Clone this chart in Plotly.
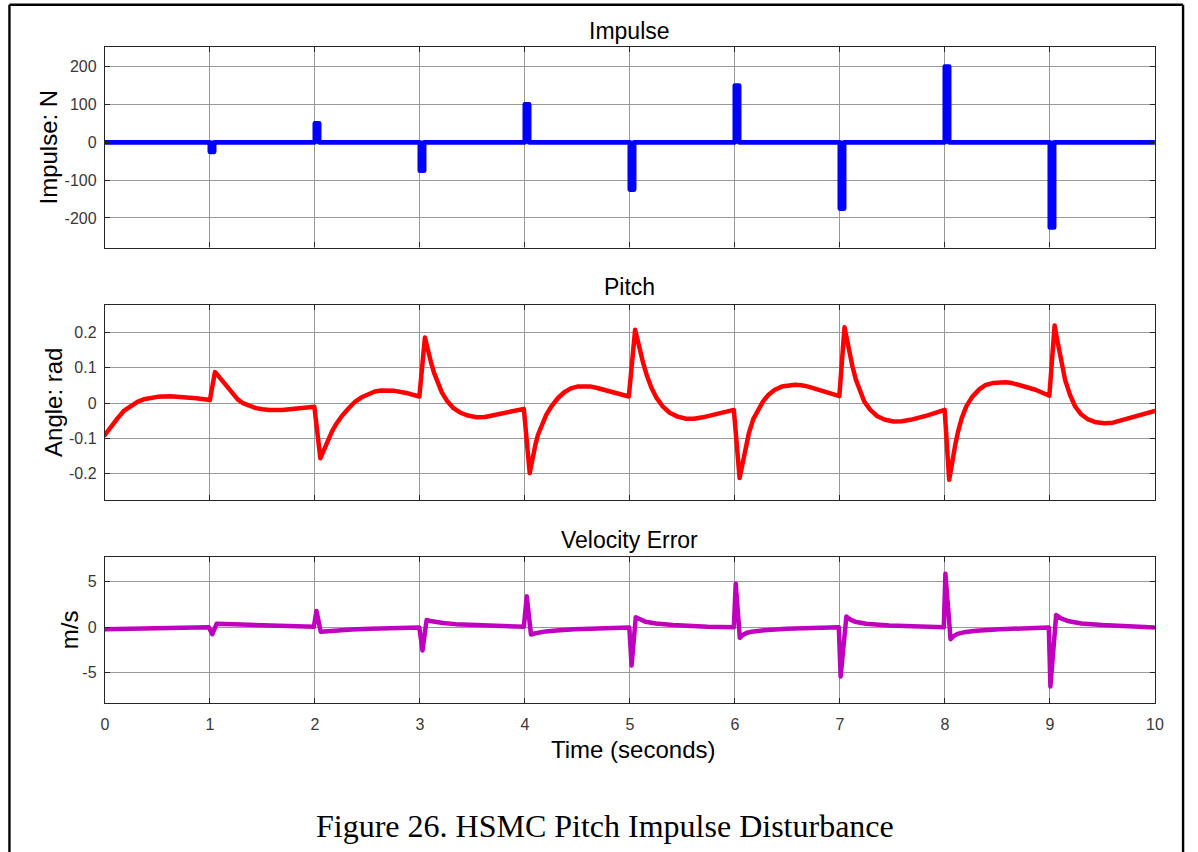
import plotly.graph_objects as go

W, H = 1198, 852

# Impulse disturbance: pulse start times (s), amplitudes (N), pulse duration (s)
impulse_start = [1, 2, 3, 4, 5, 6, 7, 8, 9]
impulse_amp = [-25, 50, -75, 100, -125, 150, -175, 200, -225]
impulse_width = 0.04
t_end = 10

# Pitch angle response (rad)
pitch_t = [0.00, 0.06, 0.12, 0.18, 0.25, 0.31, 0.37, 0.50, 0.62, 0.75, 0.87, 1.00,
           1.048, 1.09, 1.127, 1.17, 1.22, 1.265, 1.315, 1.38, 1.44, 1.50, 1.565, 1.69, 1.815, 1.995,
           2.052, 2.075, 2.10, 2.13, 2.163, 2.21, 2.257, 2.32, 2.382, 2.44, 2.508, 2.57, 2.633, 2.70, 2.76, 2.885, 2.995,
           3.048, 3.075, 3.104, 3.135, 3.167, 3.21, 3.26, 3.32, 3.386, 3.46, 3.543, 3.62, 3.70, 3.85, 3.99,
           4.046, 4.062, 4.077, 4.10, 4.124, 4.16, 4.203, 4.255, 4.313, 4.375, 4.438, 4.50, 4.564, 4.63, 4.689, 4.815, 4.99,
           5.05, 5.072, 5.097, 5.125, 5.16, 5.205, 5.254, 5.31, 5.379, 5.455, 5.536, 5.61, 5.693, 5.85, 5.99,
           6.045, 6.065, 6.086, 6.11, 6.133, 6.175, 6.227, 6.27, 6.321, 6.38, 6.447, 6.51, 6.572, 6.635, 6.698, 6.855, 6.995,
           7.044, 7.066, 7.09, 7.12, 7.153, 7.19, 7.232, 7.29, 7.357, 7.43, 7.514, 7.59, 7.671, 7.828, 7.998,
           8.041, 8.058, 8.078, 8.10, 8.126, 8.16, 8.204, 8.26, 8.33, 8.39, 8.455, 8.52, 8.58, 8.64, 8.706, 8.863, 8.995,
           9.045, 9.063, 9.083, 9.11, 9.145, 9.19, 9.24, 9.30, 9.365, 9.44, 9.522, 9.60, 9.679, 9.836, 10.0]
pitch_rad = [-0.090, -0.064, -0.043, -0.022, -0.006, 0.004, 0.011, 0.018, 0.020, 0.018, 0.014, 0.009,
             0.088, 0.074, 0.060, 0.043, 0.026, 0.011, 0.000, -0.009, -0.014, -0.017, -0.019, -0.019, -0.016, -0.010,
             -0.156, -0.140, -0.120, -0.100, -0.080, -0.056, -0.036, -0.015, 0.004, 0.016, 0.026, 0.033, 0.036, 0.037, 0.035, 0.028, 0.019,
             0.186, 0.150, 0.118, 0.086, 0.058, 0.030, 0.006, -0.014, -0.027, -0.035, -0.040, -0.039, -0.034, -0.025, -0.016,
             -0.198, -0.172, -0.150, -0.118, -0.090, -0.060, -0.033, -0.008, 0.014, 0.031, 0.042, 0.047, 0.048, 0.047, 0.043, 0.033, 0.019,
             0.208, 0.178, 0.150, 0.115, 0.080, 0.044, 0.015, -0.008, -0.027, -0.038, -0.044, -0.044, -0.040, -0.028, -0.019,
             -0.212, -0.180, -0.150, -0.116, -0.085, -0.045, -0.014, 0.006, 0.024, 0.038, 0.047, 0.051, 0.052, 0.051, 0.047, 0.033, 0.020,
             0.215, 0.178, 0.142, 0.104, 0.066, 0.033, 0.005, -0.019, -0.037, -0.047, -0.052, -0.051, -0.047, -0.035, -0.019,
             -0.217, -0.185, -0.150, -0.116, -0.080, -0.043, -0.009, 0.018, 0.040, 0.052, 0.057, 0.059, 0.059, 0.057, 0.052, 0.038, 0.021,
             0.220, 0.190, 0.160, 0.114, 0.066, 0.025, -0.009, -0.032, -0.046, -0.054, -0.057, -0.055, -0.049, -0.036, -0.022]

# Velocity tracking error (m/s)
vel_t = [0.00, 0.50, 0.99, 1.023, 1.065, 1.23, 1.55, 1.88, 1.99,
         2.015, 2.056, 2.09, 2.13, 2.20, 2.35, 2.53, 2.85, 2.995,
         3.025, 3.064, 3.10, 3.145, 3.22, 3.34, 3.665, 3.99,
         4.018, 4.058, 4.09, 4.13, 4.20, 4.30, 4.47, 4.995,
         5.016, 5.056, 5.10, 5.147, 5.25, 5.41, 5.74, 5.99,
         6.008, 6.047, 6.075, 6.11, 6.16, 6.28, 6.49, 6.99,
         7.007, 7.062, 7.10, 7.144, 7.25, 7.47, 7.99,
         8.005, 8.054, 8.08, 8.12, 8.18, 8.30, 8.52, 8.99,
         9.005, 9.06, 9.11, 9.17, 9.30, 9.50, 10.0]
vel_err = [-0.20, -0.05, 0.00, -0.75, 0.40, 0.33, 0.20, 0.10, 0.05,
           1.80, -0.50, -0.45, -0.40, -0.35, -0.25, -0.17, -0.07, -0.03,
           -2.55, 0.80, 0.70, 0.60, 0.48, 0.35, 0.17, 0.06,
           3.40, -0.80, -0.68, -0.55, -0.45, -0.34, -0.21, -0.03,
           -4.20, 1.10, 0.80, 0.62, 0.42, 0.26, 0.07, 0.00,
           4.80, -1.15, -0.85, -0.62, -0.48, -0.32, -0.17, 0.00,
           -5.40, 1.20, 0.85, 0.62, 0.40, 0.21, 0.00,
           5.90, -1.30, -1.00, -0.72, -0.55, -0.38, -0.21, -0.03,
           -6.50, 1.35, 0.95, 0.70, 0.42, 0.25, -0.03]

# Build the rectangular pulse train
imp_x, imp_y = [0.0], [0.0]
for t0, amp in zip(impulse_start, impulse_amp):
    imp_x += [t0, t0, t0 + impulse_width, t0 + impulse_width]
    imp_y += [0, amp, amp, 0]
imp_x.append(t_end)
imp_y.append(0)

SANS = "Liberation Sans, Arial, Helvetica, sans-serif"
SERIF = "Liberation Serif, Times New Roman, serif"
AX = "#262626"
GRID = "#999999"
TICK = "#383838"


def fx(px):
    return px / W


def fy(py):
    return 1 - py / H


x_dom = [fx(102), fx(1163.5)]
panels = [(47, 247.5), (305, 500), (556.7, 703.3)]

fig = go.Figure()
fig.add_trace(go.Scatter(x=imp_x, y=imp_y, mode="lines",
                         line=dict(color="#0000ff", width=4.8),
                         xaxis="x", yaxis="y"))
fig.add_trace(go.Scatter(x=pitch_t, y=pitch_rad, mode="lines",
                         line=dict(color="#ff0000", width=4.5),
                         xaxis="x2", yaxis="y2"))
fig.add_trace(go.Scatter(x=vel_t, y=vel_err, mode="lines",
                         line=dict(color="#bf00bf", width=4.5),
                         xaxis="x3", yaxis="y3"))

common = dict(showgrid=True, gridcolor=GRID, gridwidth=1, ticks="inside",
              ticklen=5, tickwidth=1, tickcolor=AX, showline=True,
              linecolor=AX, linewidth=1.2, mirror="allticks", zeroline=False,
              tickfont=dict(family=SANS, size=16, color=TICK))

y_specs = [
    dict(range=[-278, 252], tickvals=[-200, -100, 0, 100, 200],
         ticktext=["-200", "-100", "0", "100", "200"]),
    dict(range=[-0.274, 0.278], tickvals=[-0.2, -0.1, 0, 0.1, 0.2],
         ticktext=["-0.2", "-0.1", "0", "0.1", "0.2"]),
    dict(range=[-8.35, 7.76], tickvals=[-5, 0, 5],
         ticktext=["-5", "0", "5"]),
]

layout = dict(width=W, height=H, autosize=False,
              margin=dict(l=0, r=0, t=0, b=0),
              paper_bgcolor="white", plot_bgcolor="white",
              showlegend=False)

for i, ((top, bot), ys) in enumerate(zip(panels, y_specs), start=1):
    sfx = "" if i == 1 else str(i)
    layout["xaxis" + sfx] = dict(common, domain=x_dom, range=[0, 10],
                                 tickvals=list(range(0, 11)),
                                 ticktext=[str(v) for v in range(0, 11)],
                                 showticklabels=(i == 3), ticklabelstandoff=6,
                                 anchor="y" + sfx)
    layout["yaxis" + sfx] = dict(common, domain=[fy(bot), fy(top)],
                                 ticklabelstandoff=4, anchor="x" + sfx, **ys)

fig.update_layout(**layout)

xc = fx((102 + 1163.5) / 2)
annos = [
    ("Impulse", xc, fy(31), 23, 0, SANS),
    ("Pitch", xc, fy(287), 23, 0, SANS),
    ("Velocity Error", xc, fy(540), 23, 0, SANS),
    ("Impulse: N", fx(44), fy(147), 24, -90, SANS),
    ("Angle: rad", fx(50), fy(402.5), 24, -90, SANS),
    ("m/s", fx(66), fy(630), 24, -90, SANS),
    ("Time (seconds)", fx(636), fy(749), 24, 0, SANS),
    ("Figure 26. HSMC Pitch Impulse Disturbance", fx(607.5), fy(826), 32, 0, SERIF),
]
for text, x, y, size, ang, fam in annos:
    fig.add_annotation(text=text, x=x, y=y, xref="paper", yref="paper",
                       showarrow=False, xanchor="center", yanchor="middle",
                       textangle=ang, font=dict(family=fam, size=size, color="#000000"))

# Page frame
for x0, y0, x1, y1 in [(5.5, 4.8, 5.5, 852), (5.5, 4.8, 1192, 4.8), (1192, 4.8, 1192, 852)]:
    fig.add_shape(type="line", xref="paper", yref="paper",
                  x0=fx(x0), y0=fy(y0), x1=fx(x1), y1=fy(y1),
                  line=dict(color="#000000", width=2.4))

# Rounded joins and caps on the data lines
round_joins = (
    "document.querySelectorAll('.scatterlayer path.js-line').forEach("
    "function(p){p.style.strokeLinejoin='round';p.style.strokeLinecap='round';});"
)
fig.write_html("out.html", config={"displayModeBar": False, "responsive": False},
               post_script=round_joins)
